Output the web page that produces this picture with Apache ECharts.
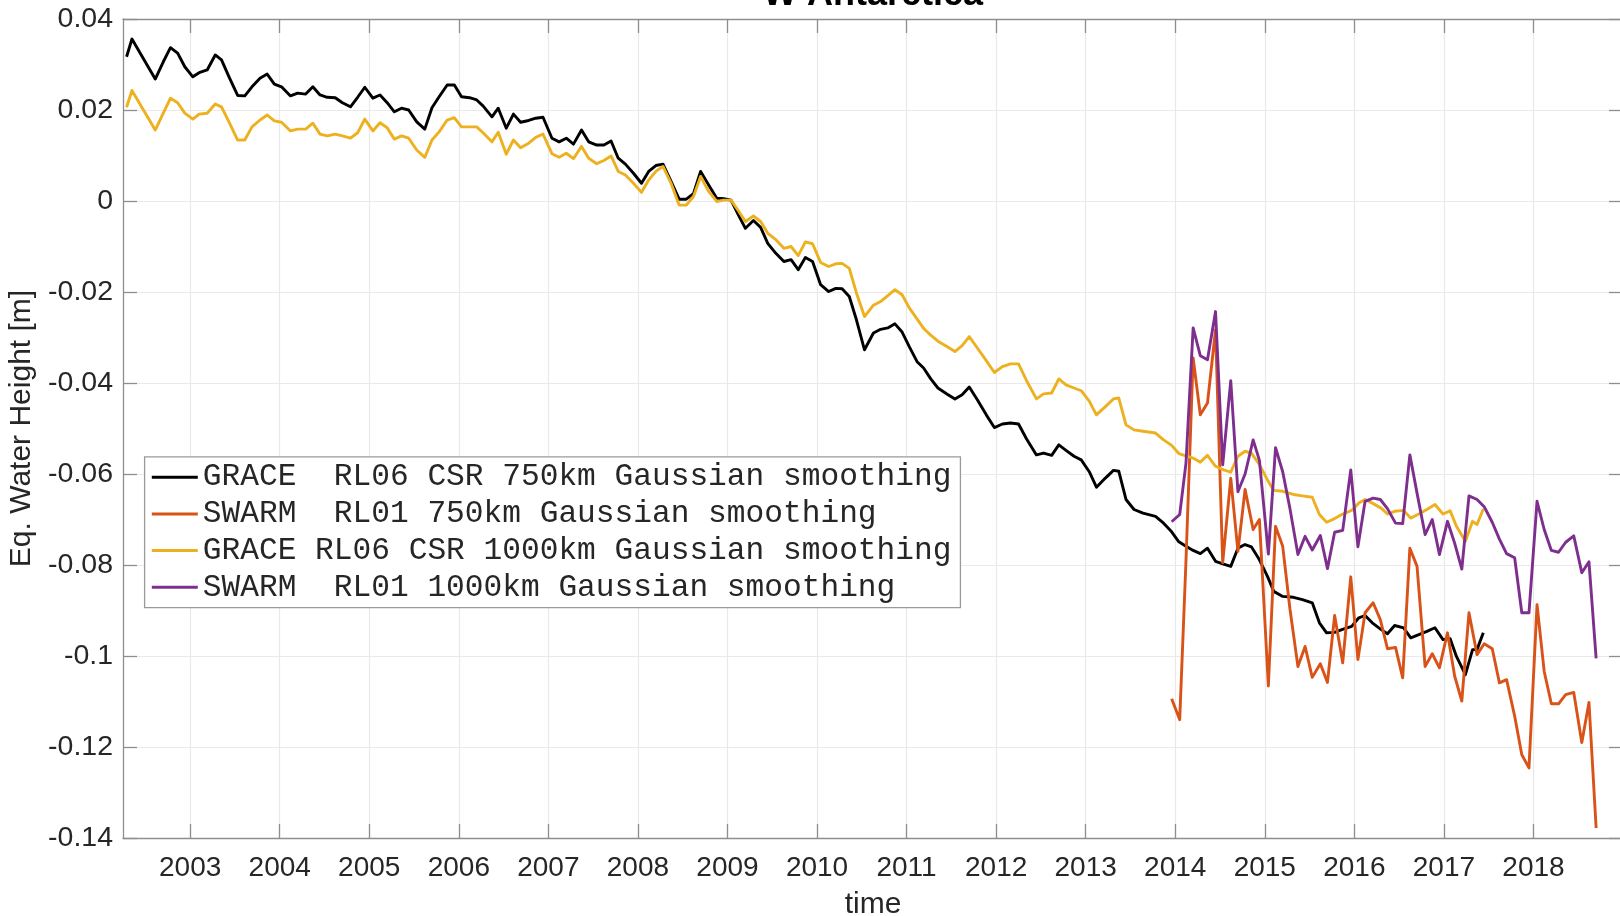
<!DOCTYPE html>
<html>
<head>
<meta charset="utf-8">
<title>W Antarctica</title>
<script src="https://cdn.jsdelivr.net/npm/echarts@6/dist/echarts.min.js"></script>
<style>
  html, body { margin: 0; padding: 0; background: #fff; }
  #main { width: 1620px; height: 916px; }
</style>
</head>
<body>
<div id="main"></div>
<script>
// series names, same order as the legend
var names = [
	'GRACE  RL06 CSR 750km Gaussian smoothing',
	'SWARM  RL01 750km Gaussian smoothing',
	'GRACE RL06 CSR 1000km Gaussian smoothing',
	'SWARM  RL01 1000km Gaussian smoothing'
];
var colors = ['#000000', '#D95319', '#EDB120', '#7E2F8E'];

var yearTicks = [2003, 2004, 2005, 2006, 2007, 2008, 2009, 2010, 2011, 2012, 2013, 2014, 2015, 2016, 2017, 2018];

// GRACE monthly epochs (decimal year)
var graceTime = [
	2002.29, 2002.35, 2002.61, 2002.70, 2002.78, 2002.86, 2002.94,
	2003.03, 2003.10, 2003.19, 2003.28, 2003.35, 2003.44, 2003.53, 2003.61, 2003.69, 2003.78, 2003.86, 2003.94,
	2004.02, 2004.12, 2004.20, 2004.29, 2004.37, 2004.45, 2004.53, 2004.62, 2004.70, 2004.79, 2004.87, 2004.95,
	2005.04, 2005.12, 2005.20, 2005.28, 2005.36, 2005.44, 2005.53, 2005.62, 2005.70, 2005.78, 2005.87, 2005.95,
	2006.03, 2006.12, 2006.20, 2006.27, 2006.37, 2006.44, 2006.53, 2006.61, 2006.69, 2006.78, 2006.86, 2006.94,
	2007.04, 2007.12, 2007.20, 2007.28, 2007.37, 2007.45, 2007.54, 2007.62, 2007.70, 2007.78, 2007.86, 2007.95,
	2008.04, 2008.12, 2008.20, 2008.28, 2008.37, 2008.46, 2008.54, 2008.62, 2008.70, 2008.79, 2008.88, 2008.96,
	2009.04, 2009.12, 2009.20, 2009.29, 2009.37, 2009.45, 2009.54, 2009.63, 2009.71, 2009.79, 2009.87, 2009.95,
	2010.04, 2010.13, 2010.21, 2010.28, 2010.36, 2010.44, 2010.53, 2010.63, 2010.71, 2010.79, 2010.87, 2010.95,
	2011.03, 2011.12, 2011.19, 2011.27, 2011.35, 2011.45, 2011.54, 2011.62, 2011.70, 2011.79, 2011.89, 2011.98,
	2012.07, 2012.16, 2012.25, 2012.34, 2012.45, 2012.53, 2012.62, 2012.70, 2012.78, 2012.87, 2012.95,
	2013.04, 2013.12, 2013.22, 2013.31, 2013.37, 2013.45, 2013.54, 2013.64, 2013.78, 2013.87, 2013.96,
	2014.04, 2014.12, 2014.20, 2014.28, 2014.36, 2014.45, 2014.54, 2014.62, 2014.70, 2014.78, 2014.85, 2014.93,
	2015.03, 2015.10, 2015.20, 2015.32, 2015.42, 2015.53, 2015.61, 2015.69, 2015.78, 2015.86, 2015.97,
	2016.05, 2016.12, 2016.20, 2016.30, 2016.37, 2016.45, 2016.55, 2016.63, 2016.72, 2016.81, 2016.90, 2016.99,
	2017.07, 2017.14, 2017.24, 2017.32, 2017.37, 2017.44
];

// GRACE RL06 CSR, 750 km smoothing [m]
var grace750 = [
	0.0317, 0.0356, 0.0268, 0.0306, 0.0337, 0.0325, 0.0295,
	0.0273, 0.0282, 0.0288, 0.0321, 0.0310, 0.0270, 0.0232, 0.0231, 0.0251, 0.0270, 0.0279, 0.0257,
	0.0251, 0.0231, 0.0237, 0.0235, 0.0251, 0.0233, 0.0228, 0.0227, 0.0216, 0.0207, 0.0228, 0.0250,
	0.0226, 0.0233, 0.0216, 0.0196, 0.0204, 0.0200, 0.0174, 0.0158, 0.0205, 0.0229, 0.0255, 0.0255,
	0.0229, 0.0227, 0.0222, 0.0209, 0.0185, 0.0204, 0.0160, 0.0191, 0.0173, 0.0177, 0.0182, 0.0184,
	0.0138, 0.0130, 0.0138, 0.0125, 0.0156, 0.0130, 0.0123, 0.0123, 0.0132, 0.0094, 0.0081, 0.0061,
	0.0039, 0.0065, 0.0078, 0.0081, 0.0043, 0.0004, 0.0004, 0.0016, 0.0065, 0.0035, 0.0006, 0.0005,
	0.0002, -0.0030, -0.0060, -0.0043, -0.0058, -0.0093, -0.0115, -0.0133, -0.0129, -0.0151, -0.0124, -0.0133,
	-0.0184, -0.0199, -0.0192, -0.0193, -0.0210, -0.0261, -0.0327, -0.0290, -0.0282, -0.0279, -0.0270, -0.0288,
	-0.0320, -0.0354, -0.0367, -0.0391, -0.0411, -0.0424, -0.0435, -0.0426, -0.0409, -0.0437, -0.0470, -0.0498,
	-0.0490, -0.0488, -0.0490, -0.0523, -0.0558, -0.0554, -0.0559, -0.0536, -0.0548, -0.0561, -0.0569,
	-0.0595, -0.0629, -0.0609, -0.0592, -0.0594, -0.0656, -0.0678, -0.0686, -0.0693, -0.0708, -0.0727,
	-0.0749, -0.0759, -0.0768, -0.0775, -0.0763, -0.0792, -0.0798, -0.0803, -0.0763, -0.0755, -0.0760, -0.0785,
	-0.0825, -0.0858, -0.0869, -0.0871, -0.0876, -0.0883, -0.0927, -0.0949, -0.0948, -0.0942, -0.0935,
	-0.0916, -0.0911, -0.0927, -0.0942, -0.0951, -0.0933, -0.0938, -0.0960, -0.0953, -0.0946, -0.0938, -0.0964,
	-0.0962, -0.1001, -0.1041, -0.0986, -0.0986, -0.0949
];

// GRACE RL06 CSR, 1000 km smoothing [m]
var grace1000 = [
	0.0206, 0.0243, 0.0156, 0.0193, 0.0226, 0.0216, 0.0193,
	0.0180, 0.0191, 0.0193, 0.0213, 0.0207, 0.0171, 0.0134, 0.0134, 0.0163, 0.0178, 0.0189, 0.0176,
	0.0173, 0.0154, 0.0158, 0.0158, 0.0171, 0.0147, 0.0143, 0.0147, 0.0143, 0.0138, 0.0150, 0.0180,
	0.0154, 0.0172, 0.0161, 0.0136, 0.0143, 0.0138, 0.0112, 0.0096, 0.0134, 0.0152, 0.0178, 0.0183,
	0.0163, 0.0163, 0.0163, 0.0150, 0.0130, 0.0151, 0.0103, 0.0134, 0.0117, 0.0127, 0.0140, 0.0147,
	0.0104, 0.0096, 0.0105, 0.0093, 0.0120, 0.0094, 0.0082, 0.0089, 0.0099, 0.0065, 0.0057, 0.0039,
	0.0019, 0.0046, 0.0065, 0.0076, 0.0039, -0.0009, -0.0009, 0.0010, 0.0054, 0.0021, -0.0001, 0.0002,
	0.0002, -0.0021, -0.0045, -0.0033, -0.0045, -0.0071, -0.0085, -0.0104, -0.0100, -0.0120, -0.0090, -0.0094,
	-0.0135, -0.0144, -0.0138, -0.0137, -0.0148, -0.0202, -0.0254, -0.0229, -0.0221, -0.0208, -0.0195, -0.0206,
	-0.0235, -0.0260, -0.0280, -0.0295, -0.0308, -0.0320, -0.0331, -0.0318, -0.0298, -0.0323, -0.0351, -0.0377,
	-0.0364, -0.0358, -0.0358, -0.0395, -0.0435, -0.0424, -0.0422, -0.0391, -0.0404, -0.0411, -0.0417,
	-0.0440, -0.0470, -0.0452, -0.0435, -0.0433, -0.0492, -0.0503, -0.0506, -0.0510, -0.0525, -0.0537,
	-0.0555, -0.0560, -0.0565, -0.0574, -0.0559, -0.0583, -0.0591, -0.0596, -0.0561, -0.0550, -0.0554, -0.0576,
	-0.0613, -0.0636, -0.0638, -0.0645, -0.0648, -0.0651, -0.0689, -0.0706, -0.0698, -0.0689, -0.0680,
	-0.0664, -0.0656, -0.0664, -0.0675, -0.0688, -0.0682, -0.0680, -0.0697, -0.0688, -0.0678, -0.0667, -0.0688,
	-0.0681, -0.0715, -0.0748, -0.0704, -0.0711, -0.0677
];

// SWARM monthly epochs (decimal year)
var swarmTime = [
	2013.96,
	2014.05, 2014.12, 2014.20, 2014.28, 2014.36, 2014.45, 2014.53, 2014.62, 2014.70, 2014.78, 2014.87, 2014.94,
	2015.04, 2015.12, 2015.20, 2015.28, 2015.37, 2015.45, 2015.53, 2015.62, 2015.70, 2015.78, 2015.87, 2015.96,
	2016.04, 2016.12, 2016.21, 2016.29, 2016.37, 2016.46, 2016.54, 2016.62, 2016.70, 2016.79, 2016.87, 2016.95,
	2017.04, 2017.12, 2017.20, 2017.28, 2017.37, 2017.45, 2017.54, 2017.62, 2017.70, 2017.79, 2017.87, 2017.95,
	2018.04, 2018.12, 2018.20, 2018.28, 2018.36, 2018.45, 2018.54, 2018.62, 2018.70
];

// SWARM RL01, 750 km smoothing [m]
var swarm750 = [
	-0.1094,
	-0.1140, -0.0790, -0.0345, -0.0470, -0.0444, -0.0283, -0.0795, -0.0609, -0.0770, -0.0634, -0.0722, -0.0700,
	-0.1066, -0.0715, -0.0759, -0.0895, -0.1023, -0.0979, -0.1047, -0.1017, -0.1058, -0.0911, -0.1015, -0.0826,
	-0.1008, -0.0905, -0.0883, -0.0920, -0.0984, -0.0981, -0.1048, -0.0763, -0.0803, -0.1023, -0.0995, -0.1026,
	-0.0949, -0.1044, -0.1099, -0.0905, -0.0997, -0.0973, -0.0984, -0.1059, -0.1052, -0.1132, -0.1217, -0.1246,
	-0.0887, -0.1034, -0.1105, -0.1105, -0.1085, -0.1080, -0.1190, -0.1102, -0.1378
];

// SWARM RL01, 1000 km smoothing [m]
var swarm1000 = [
	-0.0705,
	-0.0689, -0.0576, -0.0279, -0.0340, -0.0349, -0.0243, -0.0580, -0.0395, -0.0639, -0.0600, -0.0525, -0.0570,
	-0.0776, -0.0542, -0.0595, -0.0675, -0.0777, -0.0737, -0.0767, -0.0735, -0.0808, -0.0728, -0.0724, -0.0591,
	-0.0760, -0.0660, -0.0653, -0.0656, -0.0676, -0.0708, -0.0709, -0.0558, -0.0642, -0.0733, -0.0700, -0.0777,
	-0.0704, -0.0752, -0.0809, -0.0648, -0.0656, -0.0672, -0.0706, -0.0743, -0.0775, -0.0784, -0.0905, -0.0905,
	-0.0660, -0.0722, -0.0768, -0.0772, -0.0750, -0.0736, -0.0817, -0.0793, -0.1005
];

function pairs(t, v) {
	var out = [];
	for (var i = 0; i < t.length; i++) {
		out.push([t[i], v[i]]);
	}
	return out;
}

var font = '"Liberation Sans", Arial, Helvetica, sans-serif';
var axisGray = '#8e8e8e';
var textDark = '#262626';

var myChart = echarts.init(document.getElementById('main'), null, { renderer: 'canvas' });

var seriesData = [
	pairs(graceTime, grace750),
	pairs(swarmTime, swarm750),
	pairs(graceTime, grace1000),
	pairs(swarmTime, swarm1000)
];

var series = [];
for (var i = 0; i < names.length; i++) {
	series.push({
		name: names[i],
		type: 'line',
		xAxisIndex: 0,
		yAxisIndex: 0,
		data: seriesData[i],
		showSymbol: false,
		symbol: 'none',
		color: colors[i],
		lineStyle: { color: colors[i], width: 2.9, join: 'round' },
		emphasis: { disabled: true },
		z: 2 + i
	});
}

var option = {
	backgroundColor: '#ffffff',
	animation: false,
	graphic: [{
		type: 'text',
		x: 873,
		y: 13,
		style: {
			text: 'W Antarctica',
			font: 'bold 36px ' + font,
			fill: '#000000',
			textAlign: 'center',
			textVerticalAlign: 'bottom'
		}
	}],
	grid: {
		left: 123,
		right: -3,
		top: 19,
		bottom: 78,
		containLabel: false,
		outerBoundsMode: 'none'
	},
	legend: {
		show: true,
		orient: 'vertical',
		left: 144.6,
		top: 456.8,
		data: names,
		icon: 'rect',
		itemWidth: 46,
		itemHeight: 3,
		itemGap: 4.7,
		padding: [4.4, 9, 4.3, 7.2],
		backgroundColor: '#ffffff',
		borderColor: '#9a9a9a',
		borderWidth: 1.3,
		selectedMode: false,
		textStyle: {
			fontFamily: '"Liberation Mono", "Courier New", monospace',
			fontSize: 31.2,
			lineHeight: 32,
			color: textDark
		}
	},
	xAxis: [{
		type: 'value',
		min: 2002.25,
		max: 2019,
		position: 'bottom',
		name: 'time',
		nameLocation: 'middle',
		nameGap: 52,
		nameTextStyle: { fontFamily: font, fontSize: 30, color: textDark },
		axisLine: { show: true, onZero: false, lineStyle: { color: axisGray, width: 1.3 } },
		axisTick: { show: true, inside: true, length: 14, customValues: yearTicks, lineStyle: { color: axisGray, width: 1.3 } },
		axisLabel: {
			show: true,
			customValues: yearTicks,
			margin: 16,
			fontFamily: font,
			fontSize: 28,
			color: textDark,
			formatter: function (v) { return String(Math.round(v)); }
		},
		splitLine: { show: true, lineStyle: { color: '#e9e9e9', width: 1.2 } }
	}, {
		type: 'value',
		min: 2002.25,
		max: 2019,
		position: 'top',
		axisLine: { show: true, onZero: false, lineStyle: { color: axisGray, width: 1.3 } },
		axisTick: { show: true, inside: true, length: 14, customValues: yearTicks, lineStyle: { color: axisGray, width: 1.3 } },
		axisLabel: { show: false },
		splitLine: { show: false }
	}],
	yAxis: [{
		type: 'value',
		min: -0.14,
		max: 0.04,
		interval: 0.02,
		position: 'left',
		name: 'Eq. Water Height [m]',
		nameLocation: 'middle',
		nameRotate: 90,
		nameGap: 77,
		nameTextStyle: { fontFamily: font, fontSize: 30, color: textDark },
		axisLine: { show: true, onZero: false, lineStyle: { color: axisGray, width: 1.3 } },
		axisTick: { show: true, inside: true, length: 14, lineStyle: { color: axisGray, width: 1.3 } },
		axisLabel: {
			show: true,
			margin: 10,
			fontFamily: font,
			fontSize: 28.5,
			color: textDark,
			formatter: function (v) { return String(parseFloat(v.toFixed(2))); }
		},
		splitLine: { show: true, lineStyle: { color: '#e9e9e9', width: 1.2 } }
	}, {
		type: 'value',
		min: -0.14,
		max: 0.04,
		interval: 0.02,
		position: 'right',
		axisLine: { show: true, onZero: false, lineStyle: { color: axisGray, width: 1.3 } },
		axisTick: { show: true, inside: true, length: 14, lineStyle: { color: axisGray, width: 1.3 } },
		axisLabel: { show: false },
		splitLine: { show: false }
	}],
	series: series
};

myChart.setOption(option);
</script>
</body>
</html>
